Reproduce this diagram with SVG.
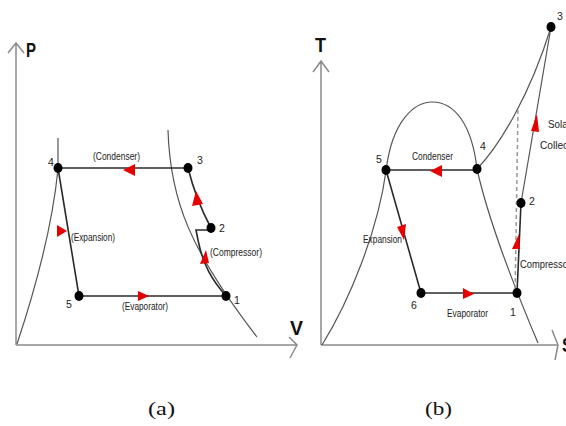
<svg xmlns="http://www.w3.org/2000/svg" width="566" height="426" viewBox="0 0 566 426">
<style>
.ax{fill:none;stroke:#8a8a8a;stroke-width:1.5}
.cv{fill:none;stroke:#555;stroke-width:1.2}
.cy{fill:none;stroke:#2a2a2a;stroke-width:1.6}
.ds{fill:none;stroke:#999;stroke-width:1.5;stroke-dasharray:4 3}
.ar{fill:#e60000;stroke:none}
.dot{fill:#000}
.lb{font-family:"Liberation Sans",Arial,sans-serif;font-size:10.5px;fill:#222}
.ax-l{font-family:"Liberation Sans",Arial,sans-serif;font-size:20px;font-weight:bold;fill:#111}
.cap{font-family:"Liberation Serif","Times New Roman",serif;font-size:18px;fill:#111}
</style>
<rect width="566" height="426" fill="#fff"/>

<!-- Panel (a) -->
<g id="axes-a">
<path class="ax" d="M16,345 V43 M8,53 L16,43 L24,53"/>
<path class="ax" d="M16,345 H296 M289,337 L297,345 L290,358"/>
<text class="ax-l" x="26" y="57" textLength="10" lengthAdjust="spacingAndGlyphs">P</text>
<text class="ax-l" x="290" y="335" textLength="13" lengthAdjust="spacingAndGlyphs">V</text>
</g>
<g id="curves-a">
<path class="cv" d="M17,344 C35,290 52,230 58,169 L58,138"/>
<path class="cv" d="M168,130 C170,200 190,250 257,337"/>
</g>
<g id="connectors-a">
<path class="cy" d="M58,168 H188"/>
<path class="cy" d="M58,168 L79,296"/>
<path class="cy" d="M79,296 H226"/>
<path class="cy" d="M188,168 Q196,200 211,228"/>
<path class="cy" d="M226,296 C212,280 203,265 198,240 L196,230 H211"/>
<polygon class="ar" points="123,170 135,164 135,176"/>
<polygon class="ar" points="196,191 192,206 203,204"/>
<polygon class="ar" points="206,250 200,264 209,263"/>
<polygon class="ar" points="57,225 57,237 67,231"/>
<polygon class="ar" points="138,291 138,301 149,296"/>
<text class="lb" x="93" y="160" textLength="47" lengthAdjust="spacingAndGlyphs">(Condenser)</text>
<text class="lb" x="210" y="256" textLength="52" lengthAdjust="spacingAndGlyphs">(Compressor)</text>
<text class="lb" x="71" y="241" textLength="44" lengthAdjust="spacingAndGlyphs">(Expansion)</text>
<text class="lb" x="122" y="310" textLength="46" lengthAdjust="spacingAndGlyphs">(Evaporator)</text>
</g>
<g id="a-node-4"><ellipse class="dot" cx="58" cy="168" rx="4.5" ry="5"/><text class="lb" x="48" y="166">4</text></g>
<g id="a-node-3"><ellipse class="dot" cx="188" cy="168" rx="4.5" ry="5"/><text class="lb" x="197" y="164">3</text></g>
<g id="a-node-2"><ellipse class="dot" cx="211" cy="228" rx="4.5" ry="5"/><text class="lb" x="219" y="232">2</text></g>
<g id="a-node-1"><ellipse class="dot" cx="226" cy="296" rx="4.5" ry="5"/><text class="lb" x="234" y="304">1</text></g>
<g id="a-node-5"><ellipse class="dot" cx="79" cy="296" rx="4.5" ry="5"/><text class="lb" x="66" y="308">5</text></g>

<!-- Panel (b) -->
<g id="axes-b">
<path class="ax" d="M321,345 V61 M313,72 L321,61 L329,72"/>
<path class="ax" d="M321,345 H557 M552,330 L558,345 L555,360"/>
<text class="ax-l" x="315" y="52" textLength="11" lengthAdjust="spacingAndGlyphs">T</text>
<text class="ax-l" x="562" y="352" textLength="11" lengthAdjust="spacingAndGlyphs">S</text>
</g>
<g id="curves-b">
<path class="cv" d="M322,345 C350,300 378,230 386,171 C392,120 415,102 432,102 C455,102 472,125 477,169"/>
<path class="cv" d="M477,169 C485,205 505,265 538,343"/>
<path class="cv" d="M477,169 C500,145 530,95 551,27"/>
<path class="ds" d="M515,296 L518,110"/>
</g>
<g id="connectors-b">
<path class="cy" d="M386,170 H477"/>
<path class="cy" d="M386,170 L421,293"/>
<path class="cy" d="M421,293 H517"/>
<path class="cy" d="M517,293 L521,203"/>
<path class="cv" d="M521,203 L551,27"/>
<polygon class="ar" points="430,171 442,165 442,177"/>
<polygon class="ar" points="397,227 406,224 404,240"/>
<polygon class="ar" points="463,288 463,299 474,294"/>
<polygon class="ar" points="519,234 512,249 520,249"/>
<polygon class="ar" points="537,114 531,131 539,132"/>
<text class="lb" x="412" y="160" textLength="41" lengthAdjust="spacingAndGlyphs">Condenser</text>
<text class="lb" x="363" y="243" textLength="39" lengthAdjust="spacingAndGlyphs">Expansion</text>
<text class="lb" x="447" y="317" textLength="41" lengthAdjust="spacingAndGlyphs">Evaporator</text>
<text class="lb" x="520" y="268" textLength="51" lengthAdjust="spacingAndGlyphs">Compressor</text>
<text class="lb" x="548" y="128" textLength="23" lengthAdjust="spacingAndGlyphs">Solar</text>
<text class="lb" x="540" y="149" textLength="40" lengthAdjust="spacingAndGlyphs">Collector</text>
</g>
<g id="b-node-5"><ellipse class="dot" cx="386" cy="170" rx="4.5" ry="5"/><text class="lb" x="376" y="163">5</text></g>
<g id="b-node-4"><ellipse class="dot" cx="477" cy="169" rx="4.5" ry="5"/><text class="lb" x="480" y="150">4</text></g>
<g id="b-node-6"><ellipse class="dot" cx="421" cy="293" rx="4.5" ry="5"/><text class="lb" x="411" y="309">6</text></g>
<g id="b-node-1"><ellipse class="dot" cx="517" cy="293" rx="4.5" ry="5"/><text class="lb" x="510" y="316">1</text></g>
<g id="b-node-2"><ellipse class="dot" cx="521" cy="203" rx="4.5" ry="5"/><text class="lb" x="529" y="205">2</text></g>
<g id="b-node-3"><ellipse class="dot" cx="551" cy="27" rx="4.5" ry="5"/><text class="lb" x="557" y="20">3</text></g>

<g id="captions">
<text class="cap" x="148" y="415" textLength="27" lengthAdjust="spacingAndGlyphs">(a)</text>
<text class="cap" x="425" y="415" textLength="27" lengthAdjust="spacingAndGlyphs">(b)</text>
</g>
</svg>
